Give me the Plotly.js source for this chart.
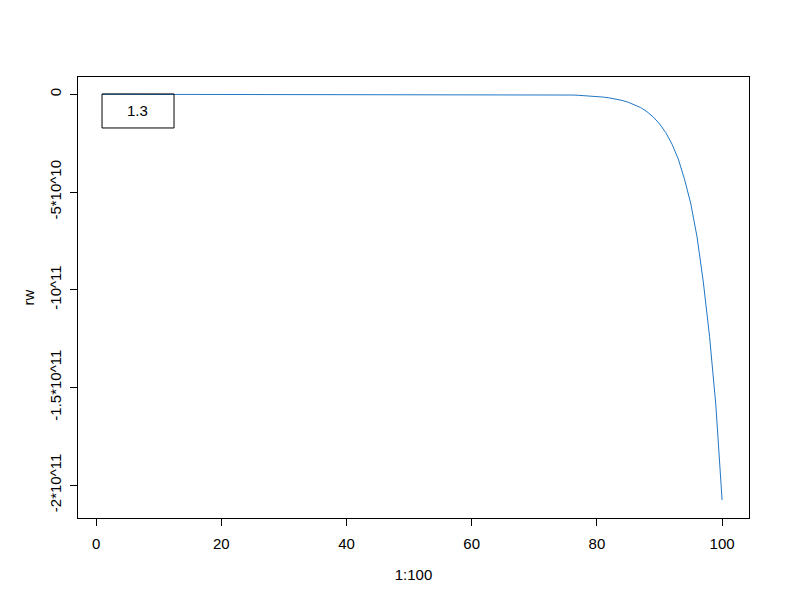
<!DOCTYPE html>
<html>
<head>
<meta charset="utf-8">
<script src="https://cdn.plot.ly/plotly-3.0.1.min.js"></script>
<style>html,body{margin:0;padding:0;background:#fff;}#chart{width:792px;height:611px;}</style>
</head>
<body>
<div id="chart"></div>
<script>
// x values: 1:100
const xValues = Array.from({length: 100}, (_, i) => i + 1);
// rw values (effectively 0 until about x = 75)
const rwValues = [
  -1.08, -1.41, -1.83, -2.38, -3.1, -4.03, -5.24, -6.8, -8.85, -11.5,
  -15.0, -19.5, -25.3, -32.9, -42.8, -55.6, -72.3, -94.0, -122, -159,
  -207, -269, -349, -454, -590, -767, -997, -1300, -1690, -2190,
  -2850, -3700, -4810, -6260, -8130, -10600, -13700, -17900, -23200, -30200,
  -39200, -51000, -66300, -86200, -112000, -146000, -189000, -246000, -320000, -416000,
  -541000, -703000, -914000, -1190000, -1540000, -2010000, -2610000, -3390000, -4410000, -5740000,
  -7.46e6, -9.70e6, -1.26e7, -1.64e7, -2.13e7, -2.77e7, -3.60e7, -4.68e7, -6.08e7, -7.91e7,
  -1.03e8, -1.34e8, -1.74e8, -2.26e8, -2.94e8, -3.82e8, -4.96e8, -6.45e8, -8.39e8, -1.09e9,
  -1.42e9, -1.85e9, -2.40e9, -3.12e9, -4.06e9, -5.3e9, -6.8e9, -8.9e9, -1.16e10, -1.51e10,
  -1.96e10, -2.55e10, -3.31e10, -4.35e10, -5.6e10, -7.3e10, -9.6e10, -1.24e11, -1.59e11, -2.076e11
];
const xTickVals = [0, 20, 40, 60, 80, 100];
const yTickVals = [0, -5e10, -1e11, -1.5e11, -2e11];
const yTickText = ["0", "-5*10^10", "-10^11", "-1.5*10^11", "-2*10^11"];
const legendLabel = "1.3";

const font = {family: "Liberation Sans, Arial, sans-serif", size: 15, color: "#000"};

const trace = {
  x: xValues, y: rwValues, type: "scatter", mode: "lines",
  line: {color: "#1f77c4", width: 1}, showlegend: false, hoverinfo: "skip"
};

const layout = {
  width: 792, height: 611,
  margin: {l: 78, r: 43, t: 77, b: 93},
  paper_bgcolor: "#fff", plot_bgcolor: "#fff",
  font: font,
  showlegend: false,
  xaxis: {
    range: [-2.9, 104.3], tickvals: xTickVals, ticktext: xTickVals.map(String),
    ticks: "outside", ticklen: 7, tickcolor: "#000", tickwidth: 1,
    showline: true, mirror: true, linecolor: "#000", linewidth: 1,
    showgrid: false, zeroline: false, tickfont: font, ticklabelstandoff: 5,
    title: {text: "1:100", font: font, standoff: 18}
  },
  yaxis: {
    range: [-2.168e11, 8.85e9], tickvals: yTickVals, ticktext: yTickText,
    ticks: "outside", ticklen: 7, tickcolor: "#000", tickwidth: 1, tickangle: -90,
    showline: true, mirror: true, linecolor: "#000", linewidth: 1,
    showgrid: false, zeroline: false, tickfont: font, ticklabelstandoff: 3,
    title: {text: "rw", font: font, standoff: 8}
  },
  shapes: [{
    type: "rect", xref: "paper", yref: "paper",
    x0: 0.0358, x1: 0.1431, y0: 0.8844, y1: 0.9615,
    line: {color: "#000", width: 1}, fillcolor: "rgba(0,0,0,0)"
  }],
  annotations: [{
    xref: "paper", yref: "paper", x: 0.0894, y: 0.923,
    text: legendLabel, showarrow: false, font: font,
    xanchor: "center", yanchor: "middle"
  }]
};

Plotly.newPlot("chart", [trace], layout, {staticPlot: true, displayModeBar: false});
</script>
</body>
</html>
